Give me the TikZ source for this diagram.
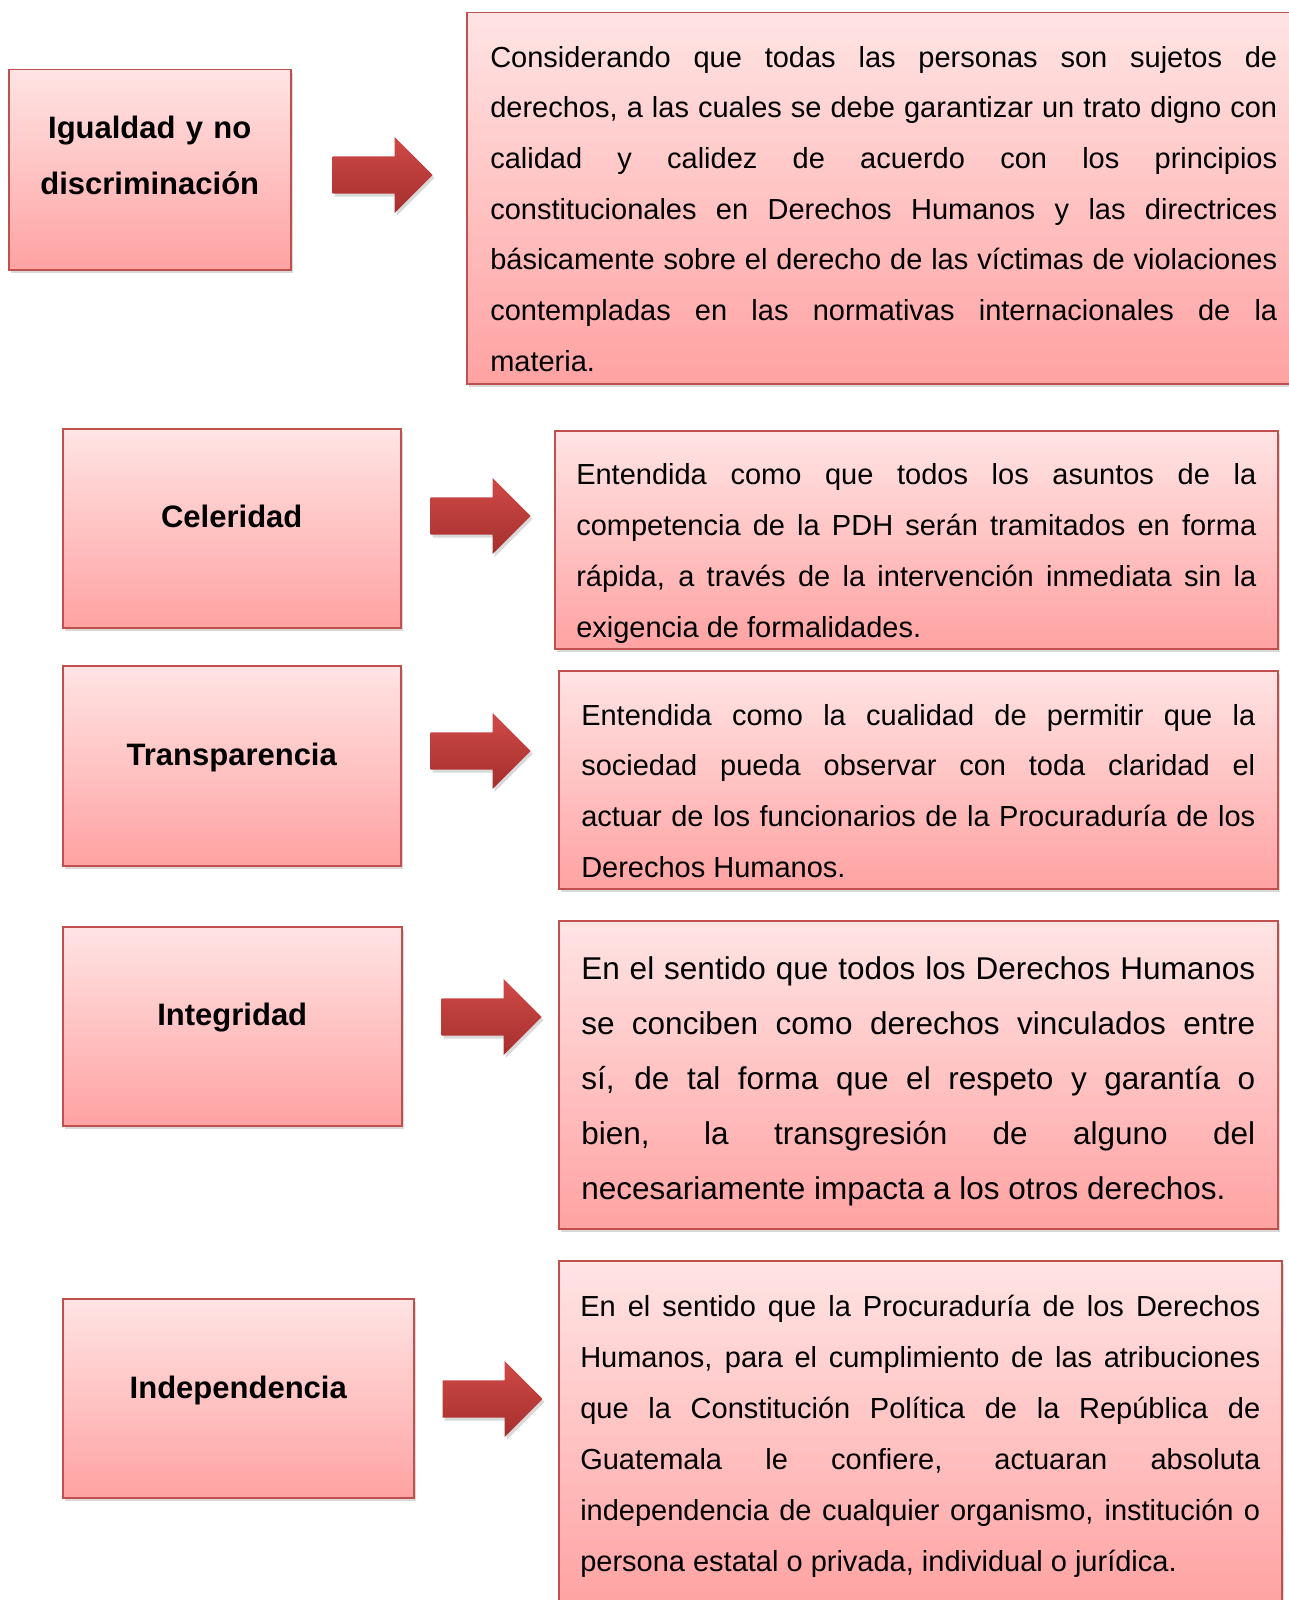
\documentclass[tikz,border=0pt]{standalone}
\usepackage{fontspec}
\setmainfont{Liberation Sans}
\usepackage{xcolor}
\usepackage{tikz}
\usetikzlibrary{shapes,arrows,positioning,shadows}

\definecolor{boxtop}{HTML}{FFE4E4}
\definecolor{boxbot}{HTML}{FFA2A2}
\definecolor{boxline}{HTML}{C0504D}
\definecolor{arrtop}{HTML}{CF4A47}
\definecolor{arrbot}{HTML}{A52F2D}

\begin{document}
\begin{tikzpicture}[
    x=1pt, y=-1pt,
    pinkbox/.style={rectangle, draw=boxline, line width=1.5pt, top color=boxtop, bottom color=boxbot, drop shadow={shadow xshift=2pt, shadow yshift=-3pt, opacity=0.3}, inner sep=0pt, anchor=north west},
    namebox/.style={pinkbox, align=center, font=\fontsize{31}{56}\selectfont\bfseries},
    descbox/.style={pinkbox, align=justify, font=\fontsize{29}{50.7}\selectfont},
    redarrow/.style={single arrow, single arrow head extend=19.5pt, single arrow tip angle=90, minimum width=76pt, minimum height=100pt, inner xsep=0pt, inner ysep=18.5pt, top color=arrtop, bottom color=arrbot, drop shadow={shadow xshift=2pt, shadow yshift=-3pt, opacity=0.3}, anchor=tip}
]
\useasboundingbox (0,0) rectangle (1289,1600);
\clip (0,0) rectangle (1289,1600);

\node[namebox, minimum width=282pt, minimum height=200pt, text width=262pt] (b1) at (8,69) {Igualdad y no\\discriminación\rule[-28pt]{0pt}{28pt}};
\node[namebox, minimum width=338pt, minimum height=199pt, text width=318pt] (b2) at (62,428) {Celeridad\rule[-24pt]{0pt}{24pt}};
\node[namebox, minimum width=338pt, minimum height=200pt, text width=318pt] (b3) at (62,665) {Transparencia\rule[-23pt]{0pt}{23pt}};
\node[namebox, minimum width=339pt, minimum height=199pt, text width=319pt] (b4) at (62,926) {Integridad\rule[-24pt]{0pt}{24pt}};
\node[namebox, minimum width=351pt, minimum height=199pt, text width=331pt] (b5) at (62,1298) {Independencia\rule[-21pt]{0pt}{21pt}};

\node[redarrow] (a1) at (433,175) {};
\node[redarrow] (a2) at (531,516) {};
\node[redarrow] (a3) at (531,751) {};
\node[redarrow] (a4) at (542,1017) {};
\node[redarrow] (a5) at (543,1399) {};

\node[descbox, minimum width=834pt, minimum height=371pt, text width=787pt] (d1) at (466,12) {\rule{0pt}{42pt}Considerando que todas las personas son sujetos de\linebreak derechos, a las cuales se debe garantizar un trato digno con\linebreak calidad y calidez de acuerdo con los principios\linebreak constitucionales en Derechos Humanos y las directrices\linebreak básicamente sobre el derecho de las víctimas de violaciones\linebreak contempladas en las normativas internacionales de la\linebreak materia.};
\node[descbox, minimum width=723pt, minimum height=218pt, text width=680pt] (d2) at (554,430) {\rule{0pt}{48.5pt}Entendida como que todos los asuntos de la\linebreak competencia de la PDH serán tramitados en forma\linebreak rápida, a través de la intervención inmediata sin la\linebreak exigencia de formalidades.};
\node[descbox, minimum width=719pt, minimum height=218pt, text width=674pt] (d3) at (558,670) {\rule{0pt}{43pt}Entendida como la cualidad de permitir que la\linebreak sociedad pueda observar con toda claridad el\linebreak actuar de los funcionarios de la Procuraduría de los\linebreak Derechos Humanos.};
\node[descbox, minimum width=719pt, minimum height=308pt, text width=674pt, font=\fontsize{31.5}{55}\selectfont] (d4) at (558,920) {\rule{0pt}{36pt}En el sentido que todos los Derechos Humanos\linebreak se conciben como derechos vinculados entre\linebreak sí, de tal forma que el respeto y garantía o\linebreak bien, la transgresión de alguno del\linebreak necesariamente impacta a los otros derechos.};
\node[descbox, minimum width=723pt, minimum height=345pt, text width=680pt, font=\fontsize{29}{51}\selectfont] (d5) at (558,1260) {\rule{0pt}{27pt}En el sentido que la Procuraduría de los Derechos\linebreak Humanos, para el cumplimiento de las atribuciones\linebreak que la Constitución Política de la República de\linebreak Guatemala le confiere, actuaran absoluta\linebreak independencia de cualquier organismo, institución o\linebreak persona estatal o privada, individual o jurídica.};
\end{tikzpicture}
\end{document}
